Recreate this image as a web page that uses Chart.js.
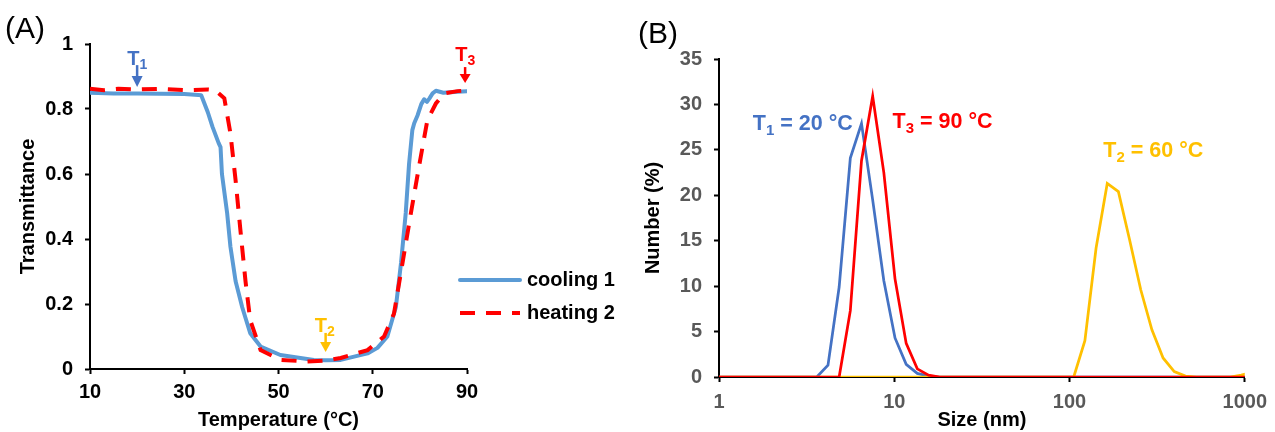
<!DOCTYPE html>
<html><head><meta charset="utf-8">
<script src="https://cdn.jsdelivr.net/npm/chart.js@4.4.0/dist/chart.umd.min.js"></script>
<style>
html,body{margin:0;padding:0;background:#fff;width:1275px;height:432px;overflow:hidden;}
#wa{position:absolute;left:0;top:0;width:620px;height:432px;}
#wb{position:absolute;left:620px;top:0;width:655px;height:432px;}
.panel{position:absolute;font-family:"Liberation Sans",Arial,sans-serif;font-size:30px;color:#000;line-height:30px;}
</style></head><body>
<div id="wa"><canvas id="ca" width="620" height="432"></canvas></div>
<div id="wb"><canvas id="cb" width="655" height="432"></canvas></div>
<div class="panel" style="left:5px;top:13px">(A)</div>
<div class="panel" style="left:638px;top:18px">(B)</div>
<script>
// ---------- Panel A data ----------
const coolTemp  = [10, 15, 20, 25, 30, 33, 33.6, 35, 36, 37.3, 37.7, 38.0, 39.1, 39.8, 40.9, 42.3, 44.0, 46.2, 50.4, 57.5, 60, 63.2, 68.9, 71, 73.1, 74.9, 76, 77, 77.7, 78.4, 78.8, 79.5, 80.3, 80.9, 81.5, 82.0, 82.7, 83.4, 85, 88, 90];
const coolTrans = [0.850, 0.848, 0.848, 0.847, 0.846, 0.843, 0.842, 0.79, 0.745, 0.695, 0.683, 0.60, 0.48, 0.376, 0.27, 0.19, 0.11, 0.069, 0.043, 0.028, 0.027, 0.028, 0.048, 0.065, 0.10, 0.19, 0.326, 0.48, 0.63, 0.735, 0.756, 0.78, 0.815, 0.83, 0.822, 0.832, 0.848, 0.856, 0.850, 0.853, 0.855];
const heatTemp  = [10, 13, 16, 20, 25, 30, 35, 36.5, 38.5, 39.8, 40.9, 41.9, 43, 44, 46.2, 50.4, 56.1, 60, 63.2, 68.9, 72.4, 74.5, 76.3, 78.1, 79.9, 81.6, 83.4, 85.2, 88, 90];
const heatTrans = [0.862, 0.858, 0.862, 0.860, 0.862, 0.858, 0.860, 0.858, 0.833, 0.725, 0.58, 0.43, 0.27, 0.15, 0.058, 0.028, 0.023, 0.026, 0.034, 0.058, 0.10, 0.17, 0.325, 0.48, 0.63, 0.766, 0.817, 0.848, 0.855, 0.857];
const tempTicks  = [10, 30, 50, 70, 90];
const transTicks = [0, 0.2, 0.4, 0.6, 0.8, 1];
const seriesA    = ['cooling 1', 'heating 2'];

// ---------- Panel B data ----------
const sizeBins = [0.965, 1.117, 1.294, 1.499, 1.736, 2.010, 2.328, 2.696, 3.122, 3.615, 4.187, 4.849, 5.615, 6.503, 7.531, 8.721, 10.10, 11.70, 13.54, 15.69, 18.17, 21.04, 24.36, 28.21, 32.67, 37.84, 43.82, 50.75, 58.77, 68.06, 78.82, 91.28, 105.7, 122.4, 141.8, 164.2, 190.1, 220.2, 255.0, 295.3, 342.0, 396.1, 458.7, 531.2, 615.1, 712.4, 825.0, 955.4, 1106];
const numT1 = [0,0,0,0,0,0,0,0,0,0, 1.3, 9.9, 24.1, 27.9, 19.5, 10.6, 4.3, 1.4, 0.4, 0.1, 0,0,0,0,0,0,0,0,0,0,0,0,0,0,0,0,0,0,0,0,0,0,0,0,0,0,0,0,0];
const numT3 = [0,0,0,0,0,0,0,0,0,0, 0, 0, 7.3, 23.8, 30.9, 22.5, 10.8, 3.7, 0.9, 0.2, 0,0,0,0,0,0,0,0,0,0,0,0,0,0,0,0,0,0,0,0,0,0,0,0,0,0,0,0,0];
const numT2 = [0,0,0,0,0,0,0,0,0,0,0,0,0,0,0,0,0,0,0,0,0,0,0,0,0,0,0,0,0,0,0,0, 0, 4.0, 14.2, 21.3, 20.4, 15.1, 9.6, 5.2, 2.1, 0.6, 0.1, 0, 0, 0, 0, 0.2, 0.5];
const sizeTicks   = [1, 10, 100, 1000];
const numberTicks = [0, 5, 10, 15, 20, 25, 30, 35];

const FAM = '"Liberation Sans", Arial, sans-serif';
const BLUE_A = '#5B9BD5', RED = '#FF0000', BLUE_B = '#4472C4', GOLD = '#FFC000';
const FS = 20;

const pts = (xs, ys) => xs.map((v, i) => ({x: v, y: ys[i]}));

// annotation plugin: text with subscript and optional arrow, placed via the scales
const annot = {
  id: 'annot',
  afterDatasetsDraw(chart, args, opts) {
    const {ctx} = chart; const sx = chart.scales.x, sy = chart.scales.y;
    ctx.save();
    (opts.items || []).forEach(it => {
      const px = sx.getPixelForValue(it.x), py = sy.getPixelForValue(it.y);
      ctx.fillStyle = it.color; ctx.strokeStyle = it.color;
      ctx.textAlign = 'left'; ctx.textBaseline = 'alphabetic';
      const mainFont = 'bold ' + it.size + 'px ' + FAM;
      ctx.font = mainFont; ctx.fillText(it.main, px, py);
      const w1 = ctx.measureText(it.main).width;
      ctx.font = 'bold ' + it.subSize + 'px ' + FAM;
      ctx.fillText(it.sub, px + w1, py + it.subDrop);
      const w2 = ctx.measureText(it.sub).width;
      if (it.rest) { ctx.font = mainFont; ctx.fillText(it.rest, px + w1 + w2, py); }
      if (it.ax !== undefined) {
        const ax = sx.getPixelForValue(it.ax), y1 = sy.getPixelForValue(it.ay1), y2 = sy.getPixelForValue(it.ay2);
        const hl = it.head || 10, hw = 5.5;
        ctx.lineWidth = 2.5; ctx.beginPath(); ctx.moveTo(ax, y1); ctx.lineTo(ax, y2 - hl + 1); ctx.stroke();
        ctx.beginPath(); ctx.moveTo(ax - hw, y2 - hl); ctx.lineTo(ax + hw, y2 - hl); ctx.lineTo(ax, y2); ctx.closePath(); ctx.fill();
      }
    });
    ctx.restore();
  }
};

// legend drawn inside panel A, relative to the plot area
const legendA = {
  id: 'legendA',
  afterDraw(chart) {
    const {ctx, chartArea} = chart;
    const styles = [{c: BLUE_A, d: []}, {c: RED, d: [15, 11]}];
    ctx.save();
    seriesA.forEach((name, i) => {
      const y = chartArea.bottom - 89 + i * 33;
      const x0 = chartArea.right - 7, x1 = chartArea.right + 53;
      ctx.strokeStyle = styles[i].c; ctx.lineWidth = 4; ctx.setLineDash(styles[i].d);
      ctx.lineCap = i === 0 ? 'round' : 'butt';
      ctx.beginPath(); ctx.moveTo(x0, y); ctx.lineTo(x1, y); ctx.stroke();
      ctx.setLineDash([]);
      ctx.fillStyle = '#000'; ctx.font = 'bold ' + FS + 'px ' + FAM; ctx.textBaseline = 'middle'; ctx.textAlign = 'left';
      ctx.fillText(name, chartArea.right + 60, y);
    });
    ctx.restore();
  }
};

function axisOpts(tickColor, pad, cb) {
  return {
    grid: {drawOnChartArea: false, drawTicks: true, tickLength: 5, tickWidth: 2, color: '#000'},
    border: {display: true, color: '#000', width: 2},
    ticks: {color: tickColor, font: {family: FAM, size: FS, weight: 'bold'}, maxRotation: 0, autoSkip: false, padding: pad, callback: cb}
  };
}
const fmt = v => String(v);
const titleFont = {family: FAM, size: FS, weight: 'bold'};

// ---------- Chart A ----------
new Chart(document.getElementById('ca'), {
  type: 'line',
  data: {datasets: [
    {label: seriesA[1], data: pts(heatTemp, heatTrans), borderColor: RED, borderWidth: 4, borderDash: [15, 11], pointRadius: 0, fill: false},
    {label: seriesA[0], data: pts(coolTemp, coolTrans), borderColor: BLUE_A, borderWidth: 4, pointRadius: 0, fill: false, borderJoinStyle: 'round', borderCapStyle: 'round'}
  ]},
  options: {
    responsive: false, animation: false, devicePixelRatio: 1,
    layout: {padding: {left: 0, right: 153, top: 44, bottom: 0}},
    plugins: {legend: {display: false}, tooltip: {enabled: false},
      annot: {items: [
        {main: 'T', sub: '1', x: 17.9, y: 0.935, size: 20, subSize: 14, subDrop: 4, color: BLUE_B, ax: 20, ay1: 0.935, ay2: 0.868, head: 11},
        {main: 'T', sub: '2', x: 57.7, y: 0.114, size: 20, subSize: 14, subDrop: 4, color: GOLD, ax: 60, ay1: 0.111, ay2: 0.052, head: 10},
        {main: 'T', sub: '3', x: 87.5, y: 0.948, size: 20, subSize: 14, subDrop: 4, color: RED, ax: 89.6, ay1: 0.929, ay2: 0.880, head: 9}
      ]}
    },
    scales: {
      x: Object.assign(axisOpts('#000', 6, fmt), {type: 'linear', min: 10, max: 90,
        afterBuildTicks: s => { s.ticks = tempTicks.map(v => ({value: v})); },
        afterFit: s => { s.height = 63; },
        title: {display: true, text: 'Temperature (°C)', color: '#000', font: titleFont, padding: {top: 0, bottom: 0}}
      }),
      y: Object.assign(axisOpts('#000', 12, fmt), {type: 'linear', min: 0, max: 1,
        afterBuildTicks: s => { s.ticks = transTicks.map(v => ({value: v})); },
        afterFit: s => { s.width = 90; },
        title: {display: true, text: 'Transmittance', color: '#000', font: titleFont, padding: {top: 16, bottom: 0}}
      })
    }
  },
  plugins: [annot, legendA]
});

// ---------- Chart B ----------
new Chart(document.getElementById('cb'), {
  type: 'line',
  data: {datasets: [
    {label: 'T3', data: pts(sizeBins, numT3), borderColor: RED, borderWidth: 2.75, pointRadius: 0, fill: false},
    {label: 'T2', data: pts(sizeBins, numT2), borderColor: GOLD, borderWidth: 2.75, pointRadius: 0, fill: false},
    {label: 'T1', data: pts(sizeBins, numT1), borderColor: BLUE_B, borderWidth: 2.75, pointRadius: 0, fill: false}
  ]},
  options: {
    responsive: false, animation: false, devicePixelRatio: 1,
    layout: {padding: {left: 0, right: 28, top: 59, bottom: 0}},
    plugins: {legend: {display: false}, tooltip: {enabled: false},
      annot: {items: [
        {main: 'T', sub: '1', rest: ' = 20 °C', x: 1.56, y: 27.2, size: 21.5, subSize: 15, subDrop: 5, color: BLUE_B},
        {main: 'T', sub: '3', rest: ' = 90 °C', x: 9.78, y: 27.4, size: 21.5, subSize: 15, subDrop: 5, color: RED},
        {main: 'T', sub: '2', rest: ' = 60 °C', x: 156, y: 24.25, size: 21.5, subSize: 15, subDrop: 5, color: GOLD}
      ]}
    },
    scales: {
      x: Object.assign(axisOpts('#595959', 8, fmt), {type: 'logarithmic', min: 1, max: 1000,
        afterBuildTicks: s => { s.ticks = sizeTicks.map(v => ({value: v})); },
        afterFit: s => { s.height = 55; },
        title: {display: true, text: 'Size (nm)', color: '#000', font: titleFont, padding: {top: 0, bottom: 0}}
      }),
      y: Object.assign(axisOpts('#595959', 12, fmt), {type: 'linear', min: 0, max: 35,
        afterBuildTicks: s => { s.ticks = numberTicks.map(v => ({value: v})); },
        afterFit: s => { s.width = 99; },
        title: {display: true, text: 'Number (%)', color: '#000', font: titleFont, padding: {top: 21, bottom: 0}}
      })
    }
  },
  plugins: [annot]
});
</script>
</body></html>
